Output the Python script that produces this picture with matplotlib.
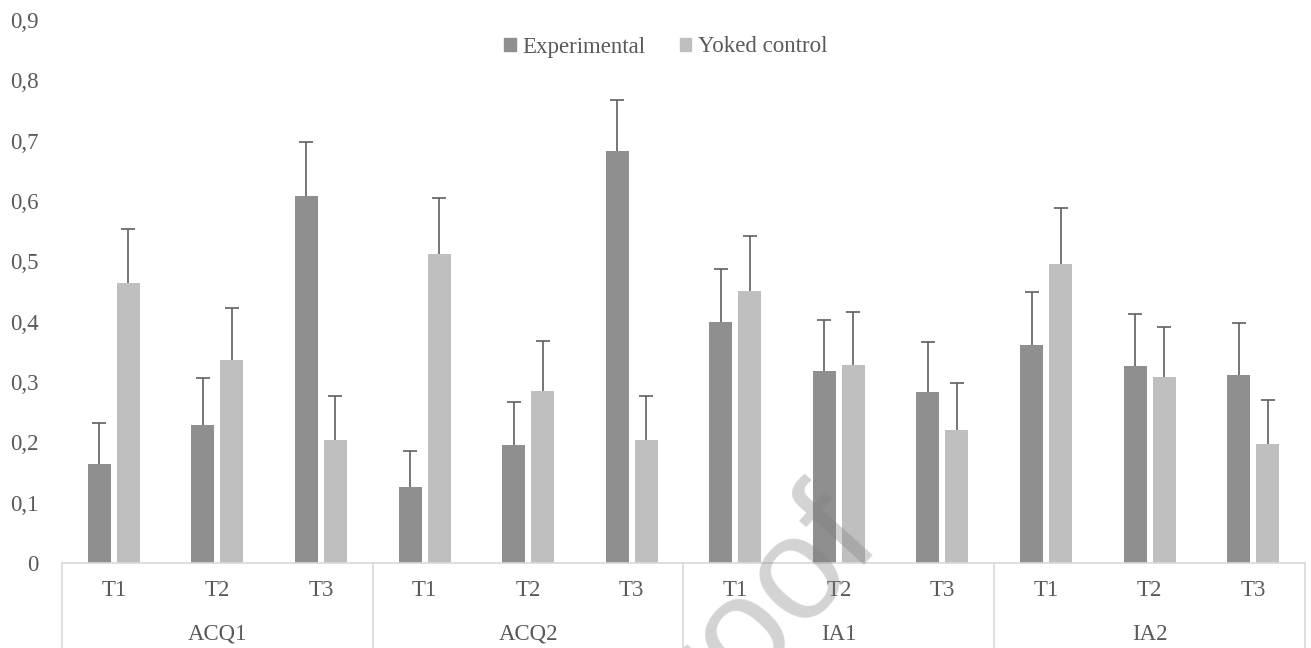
import matplotlib

matplotlib.use("Agg")
import matplotlib.pyplot as plt
import numpy as np
from matplotlib.patches import Patch
from matplotlib.ticker import FuncFormatter

# values
groups = ["ACQ1", "ACQ2", "IA1", "IA2"]
times = ["T1", "T2", "T3"]
experimental = [0.164, 0.229, 0.609, 0.126, 0.196, 0.683,
                0.400, 0.318, 0.284, 0.361, 0.327, 0.312]
experimental_err = [0.068, 0.078, 0.089, 0.060, 0.071, 0.085,
                    0.088, 0.085, 0.082, 0.088, 0.086, 0.086]
yoked = [0.464, 0.337, 0.204, 0.512, 0.285, 0.204,
         0.451, 0.328, 0.221, 0.496, 0.308, 0.197]
yoked_err = [0.090, 0.086, 0.073, 0.093, 0.083, 0.073,
             0.091, 0.088, 0.078, 0.093, 0.083, 0.073]

DARK = "#8f8f8f"
LIGHT = "#bfbfbf"
TEXT = "#595959"
LINE = "#d9d9d9"
ERR = "#5f5f5f"
FS = 16.5

plt.rcParams["font.family"] = ["Liberation Serif", "DejaVu Serif"]
plt.rcParams["font.size"] = FS

fig = plt.figure(figsize=(13.11, 6.48), dpi=100)
ax = fig.add_axes([62 / 1311, 1 - 563 / 648, (1305 - 62) / 1311, (563 - 20) / 648])

x = np.arange(len(experimental))
width = 0.222
offset = 0.14


def bars_with_upper_err(xs, vals, errs, color):
    vals = np.asarray(vals)
    tops = vals + np.asarray(errs)
    ax.bar(xs, vals, width, color=color, zorder=2)
    # only the upper half of the error bar, cap on top only
    ax.vlines(xs, vals, tops, color=ERR, lw=1.2, zorder=3)
    ax.plot(xs, tops, ls="none", marker="_", ms=9.5, mew=1.2, color=ERR, zorder=3)


bars_with_upper_err(x - offset, experimental, experimental_err, DARK)
bars_with_upper_err(x + offset, yoked, yoked_err, LIGHT)

ax.set_xlim(-0.5, len(x) - 0.5)
ax.set_ylim(0, 0.9)
ax.set_yticks(np.arange(0, 0.91, 0.1))
ax.yaxis.set_major_formatter(
    FuncFormatter(lambda v, _: "0" if abs(v) < 1e-9 else f"{v:.1f}".replace(".", ",")))
ax.tick_params(axis="y", length=0, pad=17, colors=TEXT, labelsize=FS)
ax.set_xticks([])
for side in ["top", "right", "left"]:
    ax.spines[side].set_visible(False)
ax.spines["bottom"].set_color(LINE)
ax.spines["bottom"].set_linewidth(1.2)

# two-level category axis
trans = ax.get_xaxis_transform()
for i, xi in enumerate(x):
    ax.text(xi, -0.05, times[i % 3], transform=trans, ha="center", va="center",
            color=TEXT, fontsize=FS)
for g, name in enumerate(groups):
    ax.text(3 * g + 1, -0.131, name, transform=trans, ha="center", va="center",
            color=TEXT, fontsize=FS)
for b in np.arange(len(groups) + 1) * 3 - 0.5:
    ax.plot([b, b], [0, -0.16], transform=trans, color=LINE, lw=1.2, clip_on=False)

handles = [Patch(color=DARK), Patch(color=LIGHT)]
fig.legend(handles, ["Experimental", "Yoked control"], loc="center",
           bbox_to_anchor=(0.508, 1 - 47 / 648), ncol=2, frameon=False,
           handlelength=0.5, handleheight=0.5, handletextpad=0.3, columnspacing=1.5,
           labelcolor=TEXT, fontsize=FS)

# faint "Proof" watermark of the source page (cut off by the bottom edge there too)
fig.text(880 / 1311, 1 - 535 / 648, "Proof", family="Liberation Sans", fontsize=105,
         rotation=48, rotation_mode="anchor", ha="right", va="baseline",
         color="gray", alpha=0.35, zorder=10)

fig.savefig("out.png", dpi=100)
